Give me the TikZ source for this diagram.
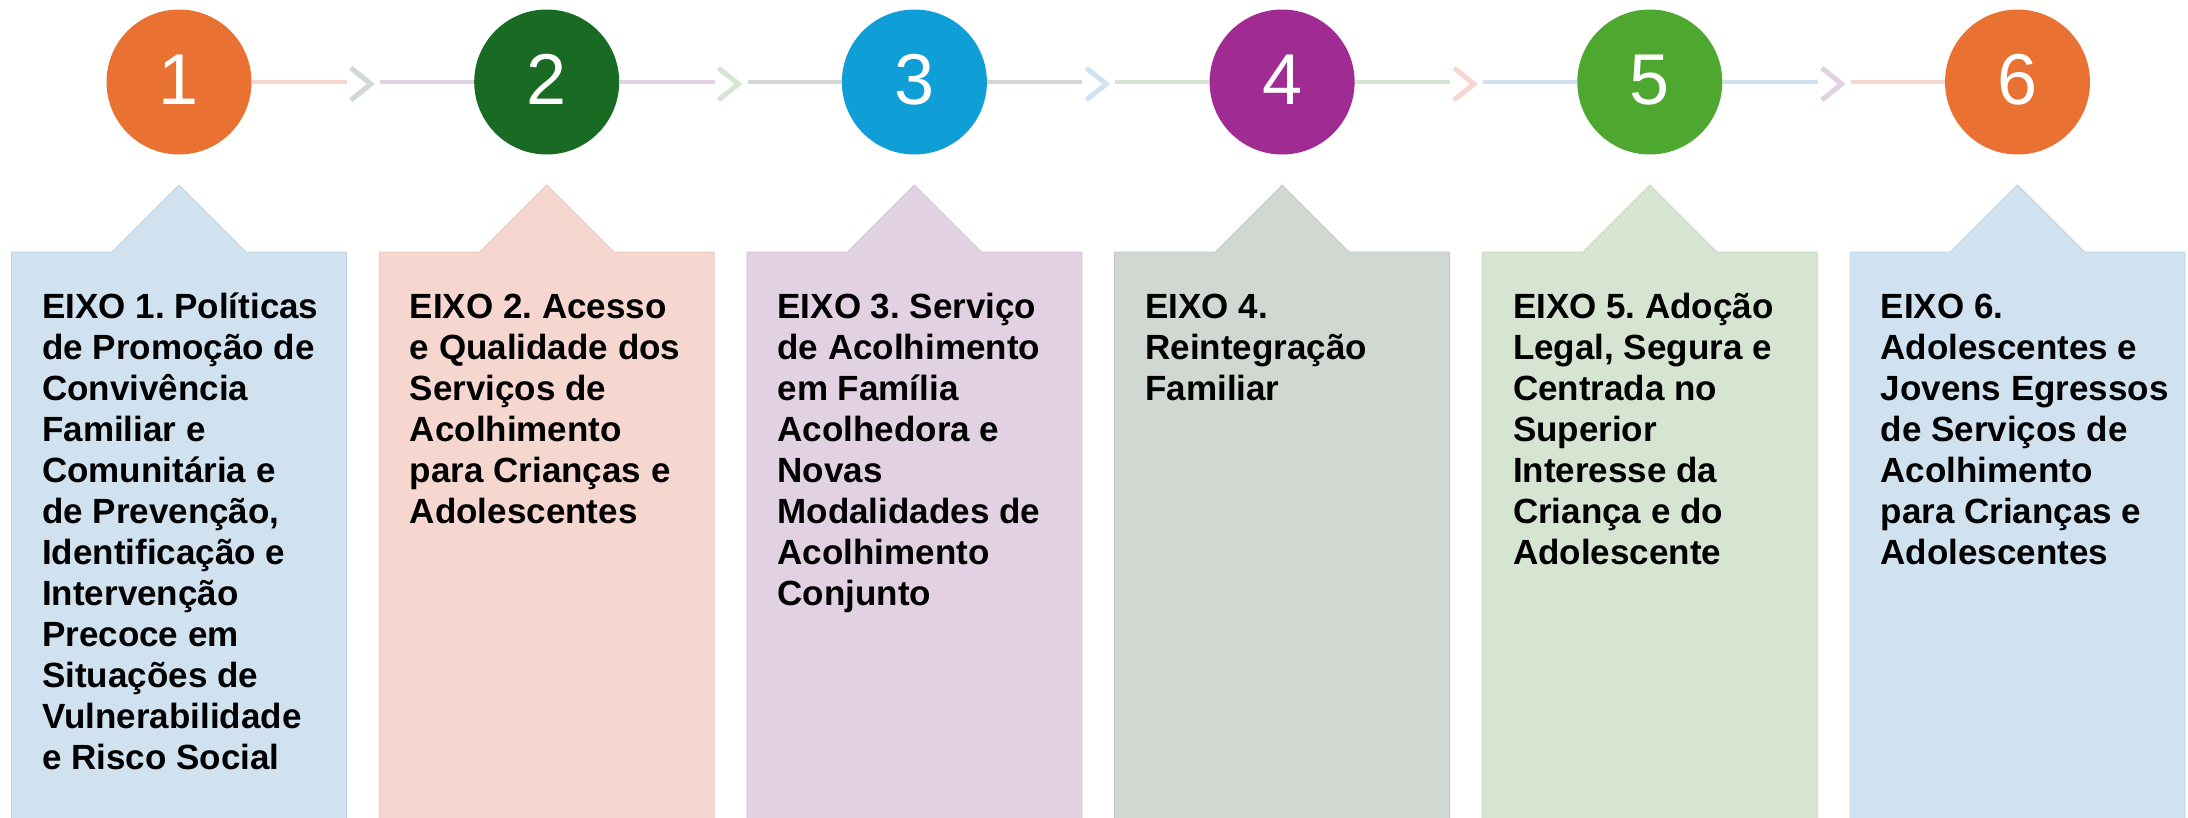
\documentclass[tikz,border=0pt]{standalone}
\usepackage{fontspec}
\setmainfont{Liberation Sans}
\frenchspacing
\definecolor{cOr}{HTML}{E97132}
\definecolor{cDg}{HTML}{196B24}
\definecolor{cBl}{HTML}{0F9ED5}
\definecolor{cPu}{HTML}{A02B93}
\definecolor{cGr}{HTML}{4EA72E}
\definecolor{pA}{HTML}{D0E2F0}
\definecolor{pB}{HTML}{F6D7D0}
\definecolor{pC}{HTML}{E2D1E2}
\definecolor{pD}{HTML}{D0D8D1}
\definecolor{pE}{HTML}{D5E5D1}
\begin{document}
\begin{tikzpicture}[x=1pt,y=-1pt,
  circ/.style={circle, minimum size=145pt, inner sep=0pt},
  num/.style={text=white, inner sep=0pt, anchor=base, font=\fontsize{72}{72}\selectfont},
  conn/.style={line width=4pt},
  chev/.style={line width=5pt, miter limit=10},
  panel/.style={line width=0.8pt},
  txt/.style={align=left, inner sep=0pt, anchor=north west, font=\bfseries\fontsize{35}{41}\selectfont}]
\useasboundingbox (0,0) rectangle (2188,817);

% panels
\foreach \i/\x/\col in {1/179/pA, 2/546.7/pB, 3/914.4/pC, 4/1282.1/pD, 5/1649.8/pE, 6/2017.5/pA}{
  \filldraw[panel, fill=\col, draw=\col!93!black]
    (\x-167.5,822) -- (\x-167.5,252) -- (\x-67,252) -- (\x,185) -- (\x+67,252)
    -- (\x+167.5,252) -- (\x+167.5,822) -- cycle;
}

% texts (first baseline at y = 318)
\node[txt] (t1) at (42,289.3) {\strut EIXO 1. Políticas\\de Promoção de\\Convivência\\Familiar e\\Comunitária e\\de Prevenção,\\Identificação e\\Intervenção\\Precoce em\\Situações de\\Vulnerabilidade\\e Risco Social};
\node[txt] (t2) at (409.7,289.3) {\strut EIXO 2. Acesso\\e Qualidade dos\\Serviços de\\Acolhimento\\para Crianças e\\Adolescentes};
\node[txt] (t3) at (777.4,289.3) {\strut EIXO 3. Serviço\\de Acolhimento\\em Família\\Acolhedora e\\Novas\\Modalidades de\\Acolhimento\\Conjunto};
\node[txt] (t4) at (1145.1,289.3) {\strut EIXO 4.\\Reintegração\\Familiar};
\node[txt] (t5) at (1512.8,289.3) {\strut EIXO 5. Adoção\\Legal, Segura e\\Centrada no\\Superior\\Interesse da\\Criança e do\\Adolescente};
\node[txt] (t6) at (1880.5,289.3) {\strut EIXO 6.\\Adolescentes e\\Jovens Egressos\\de Serviços de\\Acolhimento\\para Crianças e\\Adolescentes};

% circles
\foreach \i/\x/\col in {1/179/cOr, 2/546.7/cDg, 3/914.4/cBl, 4/1282.1/cPu, 5/1649.8/cGr, 6/2017.5/cOr}{
  \node[circ, fill=\col] (c\i) at (\x,82) {};
  \node[num] (n\i) at (\x,104) {\i};
}

% connectors
\foreach \i/\j/\m/\la/\ch/\ra in {1/2/362.85/pB/pD/pC, 2/3/730.55/pC/pE/pD, 3/4/1098.25/pD/pA/pE, 4/5/1465.95/pE/pB/pA, 5/6/1833.65/pA/pC/pB}{
  \coordinate (kl\i) at (\m-16,82);
  \coordinate (kr\i) at (\m+17,82);
  \coordinate (v\i) at (\m+8,84);
  \draw[conn, draw=\la] (c\i.east) -- (kl\i);
  \draw[conn, draw=\ra] (kr\i) -- (c\j.west);
  \draw[chev, draw=\ch] ([xshift=-20pt,yshift=16pt]v\i) -- (v\i) -- ([xshift=-20pt,yshift=-16pt]v\i);
}
\end{tikzpicture}
\end{document}
